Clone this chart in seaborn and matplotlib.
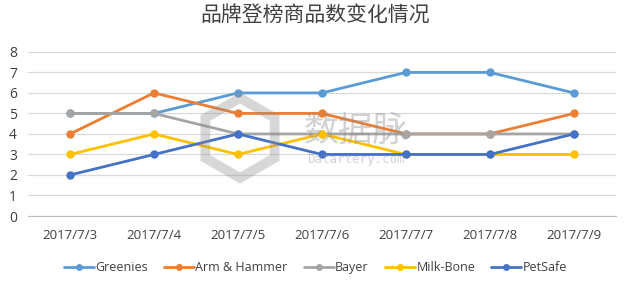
import matplotlib
matplotlib.use("Agg")
import matplotlib.pyplot as plt
import seaborn as sns
import pandas as pd
import numpy as np
from matplotlib.lines import Line2D
from matplotlib.patches import RegularPolygon

dates = ["2017/7/3", "2017/7/4", "2017/7/5", "2017/7/6", "2017/7/7", "2017/7/8", "2017/7/9"]
greenies = [5, 5, 6, 6, 7, 7, 6]
arm_hammer = [4, 6, 5, 5, 4, 4, 5]
bayer = [5, 5, 4, 4, 4, 4, 4]
milk_bone = [3, 4, 3, 4, 3, 3, 3]
petsafe = [2, 3, 4, 3, 3, 3, 4]
series_names = ["Greenies", "Arm & Hammer", "Bayer", "Milk-Bone", "PetSafe"]
title = "品牌登榜商品数变化情况"
watermark_cn = "数据脉"
watermark_en = "Datartery.com"

colors = ["#5B9BD5", "#ED7D31", "#A5A5A5", "#FFC000", "#4472C4"]

sns.set_theme(style="white")
plt.rcParams['font.family'] = ['Open Sans', 'Noto Sans CJK SC', 'DejaVu Sans']

rows = []
for name, vals in zip(series_names, [greenies, arm_hammer, bayer, milk_bone, petsafe]):
    for i, (d, v) in enumerate(zip(dates, vals)):
        rows.append({"date": d, "x": i, "value": v, "brand": name})
df = pd.DataFrame(rows)

fig = plt.figure(figsize=(6.31, 2.82), dpi=100)
ax = fig.add_axes([0.0444, 0.234, 0.9316, 0.582])

sns.lineplot(data=df, x="x", y="value", hue="brand", hue_order=series_names,
             palette=colors, marker="o", markersize=6, markeredgewidth=0,
             linewidth=2.0, ax=ax, legend=False)

ax.set_xlim(-0.5, len(dates) - 0.5)
ax.set_ylim(0, 8)
ax.set_yticks(range(0, 9))
ax.set_xticks(range(len(dates)))
ax.set_xticklabels(dates, fontsize=9.5, color="#404040")
ax.set_xticks(np.arange(-0.5, len(dates), 1), minor=True)
ax.tick_params(axis="x", which="major", length=0, pad=9)
ax.tick_params(axis="x", which="minor", length=4, color="#bfbfbf", width=0.8, direction="out")
ax.tick_params(axis="y", length=0, labelsize=10, labelcolor="#404040", pad=8)
ax.set_xlabel("")
ax.set_ylabel("")
ax.grid(axis="y", color="#d9d9d9", linewidth=0.9)
ax.set_axisbelow(True)
for s in ["top", "right", "left"]:
    ax.spines[s].set_visible(False)
ax.spines["bottom"].set_color("#bfbfbf")
ax.spines["bottom"].set_linewidth(0.8)

# watermark (semi-transparent logo and text)
hexagon = RegularPolygon((2.40, 2.82 - 1.38), numVertices=6, radius=0.40,
                         orientation=0, transform=fig.dpi_scale_trans, fill=False,
                         edgecolor="#8f8f8f", linewidth=7, alpha=0.35, zorder=10)
fig.patches.append(hexagon)
fig.text(356 / 631, 1 - 131 / 282, watermark_cn, ha="center", va="center", fontsize=25,
         color="#8f8f8f", alpha=0.4, family=['Noto Sans CJK SC', 'DejaVu Sans'], zorder=10)
fig.text(356 / 631, 1 - 159 / 282, watermark_en, ha="center", va="center", fontsize=9,
         color="#8f8f8f", alpha=0.4, family=['DejaVu Sans Mono'], zorder=10)

handles = [Line2D([0], [0], color=c, lw=2.0, marker="o", markersize=5, markeredgewidth=0)
           for c in colors]
fig.legend(handles, series_names, loc="center", bbox_to_anchor=(0.5, 0.05), ncol=5,
           frameon=False, fontsize=9, handlelength=2.4, handletextpad=0.1,
           columnspacing=1.3, labelcolor="#404040")

fig.text(0.5, 0.945, title, ha="center", va="center", fontsize=15, color="#404040",
         family=['Noto Sans CJK SC', 'DejaVu Sans'])

fig.savefig("out.png", dpi=100)
